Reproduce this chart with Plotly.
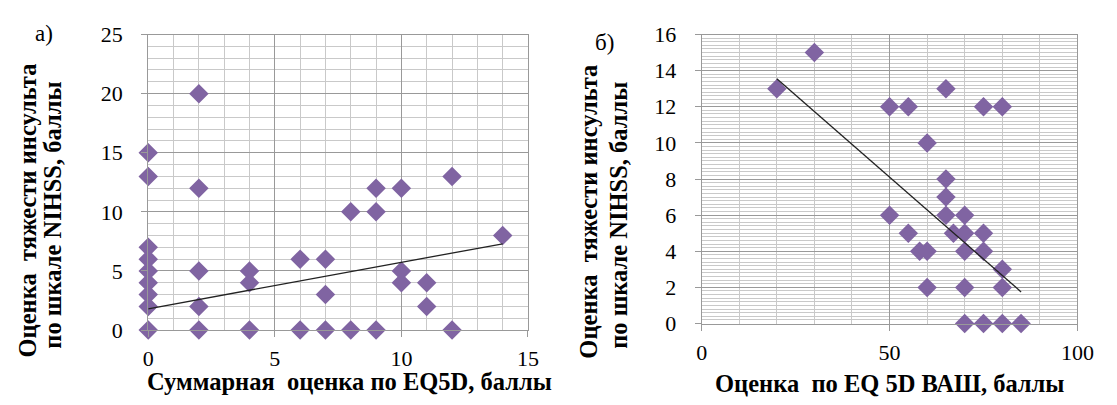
import plotly.graph_objects as go

# ---- Panel а): EQ5D sum score vs NIHSS ----
a_x = [0, 0, 0, 0, 0, 0, 0, 0, 0,
       2, 2, 2, 2, 2,
       4, 4, 4,
       6, 6,
       7, 7, 7,
       8, 8,
       9, 9, 9,
       10, 10, 10,
       11, 11,
       12, 12,
       14]
a_y = [15, 13, 7, 6, 5, 4, 3, 2, 0,
       20, 12, 5, 2, 0,
       5, 4, 0,
       6, 0,
       6, 3, 0,
       10, 0,
       12, 10, 0,
       12, 5, 4,
       4, 2,
       13, 0,
       8]
a_trend_x = [0, 14]
a_trend_y = [1.8, 7.3]

# ---- Panel б): EQ-5D VAS vs NIHSS ----
b_x = [20, 30, 50, 55, 65, 75, 80, 60, 65, 65, 50, 65, 70, 55, 67, 70, 75,
       58, 60, 70, 75, 80, 60, 70, 80, 70, 75, 80, 85]
b_y = [13, 15, 12, 12, 13, 12, 12, 10, 8, 7, 6, 6, 6, 5, 5, 5, 5,
       4, 4, 4, 4, 3, 2, 2, 2, 0, 0, 0, 0]
b_trend_x = [20, 85]
b_trend_y = [13.55, 1.75]

a_xticks = [0, 5, 10, 15]
a_yticks = [0, 5, 10, 15, 20, 25]
b_xticks = [0, 50, 100]
b_yticks = [0, 2, 4, 6, 8, 10, 12, 14, 16]

W, H = 1117, 405
PURPLE = "#8064A2"
MAJOR = "#999999"
MINOR = "#c9c9c9"
FONT = "Liberation Serif"

def fx(p):
    return p / W

def fy(p):
    return 1 - p / H

fig = go.Figure()
fig.add_trace(go.Scatter(x=a_x, y=a_y, mode="markers", xaxis="x", yaxis="y",
                         marker=dict(symbol="diamond", size=15, color=PURPLE),
                         cliponaxis=False, showlegend=False))
fig.add_trace(go.Scatter(x=a_trend_x, y=a_trend_y, mode="lines", xaxis="x", yaxis="y",
                         line=dict(color="#222222", width=1.3), showlegend=False))
fig.add_trace(go.Scatter(x=b_x, y=b_y, mode="markers", xaxis="x2", yaxis="y2",
                         marker=dict(symbol="diamond", size=15, color=PURPLE),
                         cliponaxis=False, showlegend=False))
fig.add_trace(go.Scatter(x=b_trend_x, y=b_trend_y, mode="lines", xaxis="x2", yaxis="y2",
                         line=dict(color="#222222", width=1.3), showlegend=False))

def ax(domain, rng, tickvals, minor_dtick, anchor, is_x):
    d = dict(domain=domain, range=rng, tickvals=tickvals, anchor=anchor,
             showgrid=True, gridcolor=MAJOR, gridwidth=1,
             minor=dict(dtick=minor_dtick, tick0=0, showgrid=True, gridcolor=MINOR, gridwidth=1),
             showline=True, linecolor=MAJOR, linewidth=1, mirror=True,
             ticks="outside", ticklen=6, tickcolor=MAJOR,
             zeroline=False, fixedrange=True,
             tickfont=dict(family=FONT, size=22, color="#000000"))
    d["ticklabelstandoff"] = 3 if is_x else 14
    return d

fig.update_layout(
    width=W, height=H, margin=dict(l=0, r=0, t=0, b=0),
    paper_bgcolor="white", plot_bgcolor="white",
    font=dict(family=FONT),
    xaxis=ax([fx(146), fx(533)], [0, 15], a_xticks, 1, "y", True),
    yaxis=ax([fy(339), fy(24)], [0, 25], a_yticks, 1, "x", False),
    xaxis2=ax([fx(710), fx(1093)], [0, 100], b_xticks, 10, "y2", True),
    yaxis2=ax([fy(332), fy(24)], [0, 16], b_yticks, 0.2, "x2", False),
)

title_font = dict(family=FONT, size=24.5, color="#000000")
label_font = dict(family=FONT, size=23, color="#000000")
annots = [
    dict(text="а)", x=fx(40), y=fy(23), font=label_font),
    dict(text="б)", x=fx(611), y=fy(33), font=label_font),
    dict(text="<b>Суммарная  оценка по EQ5D, баллы</b>", x=fx(351), y=fy(394), font=title_font),
    dict(text="<b>Оценка  по EQ 5D ВАШ, баллы</b>", x=fx(901), y=fy(396), font=title_font),
    dict(text="<b>Оценка  тяжести инсульта</b>", x=fx(23), y=fy(212), font=title_font, textangle=-90),
    dict(text="<b>по шкале NIHSS, баллы</b>", x=fx(49), y=fy(217), font=title_font, textangle=-90),
    dict(text="<b>Оценка  тяжести инсульта</b>", x=fx(595), y=fy(213), font=title_font, textangle=-90),
    dict(text="<b>по шкале NIHSS, баллы</b>", x=fx(625), y=fy(217), font=title_font, textangle=-90),
]
for a in annots:
    fig.add_annotation(xref="paper", yref="paper", showarrow=False,
                       xanchor="center", yanchor="middle", **a)

fig.write_html("out.html")
